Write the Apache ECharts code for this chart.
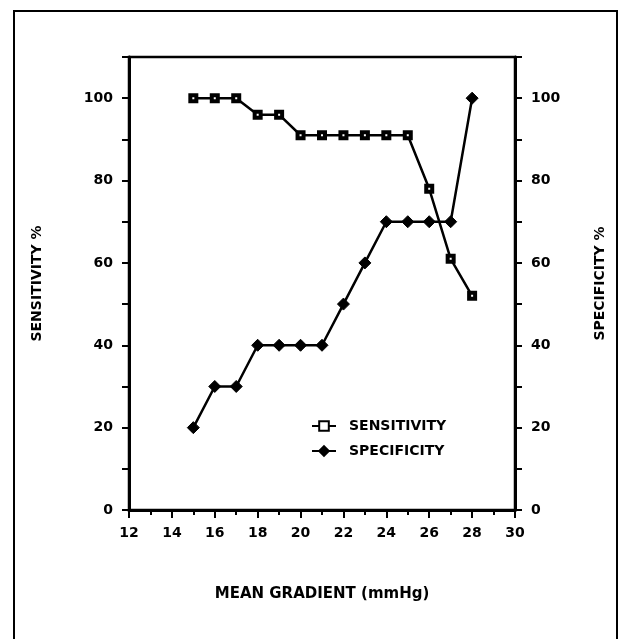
<!DOCTYPE html>
<html>
<head>
<meta charset="utf-8">
<script src="https://cdn.jsdelivr.net/npm/echarts@6/dist/echarts.min.js"></script>
<style>
  html, body { margin: 0; padding: 0; background: #fff; }
  #chart { width: 619px; height: 639px; }
</style>
</head>
<body>
<div id="chart"></div>
<script>
// mean gradient (mmHg)
const gradient = [15, 16, 17, 18, 19, 20, 21, 22, 23, 24, 25, 26, 27, 28];
const sensitivity = [100, 100, 100, 96, 96, 91, 91, 91, 91, 91, 91, 78, 61, 52];
const specificity = [20, 30, 30, 40, 40, 40, 40, 50, 60, 70, 70, 70, 70, 100];
const yLabels = [0, 20, 40, 60, 80, 100];

const font = "DejaVu Sans";
const ink = "#000";

const yLabelFmt = (v) => (yLabels.includes(v) ? String(v) : "");

const yAxisBase = {
  type: "value",
  min: 0,
  max: 110,
  interval: 10,
  nameLocation: "middle",
  nameRotate: 90,
  nameTextStyle: { color: ink, fontFamily: font, fontSize: 14, fontWeight: "bold" },
  axisLine: { show: true, lineStyle: { color: ink, width: 3 } },
  axisTick: { show: true, length: 7, lineStyle: { color: ink, width: 2 } },
  axisLabel: { color: ink, fontFamily: font, fontSize: 14, fontWeight: "bold", margin: 16, formatter: yLabelFmt },
  splitLine: { show: false },
};

const chart = echarts.init(document.getElementById("chart"), null, { renderer: "canvas" });

chart.setOption({
  backgroundColor: "#fff",
  animation: false,
  grid: {
    left: 129,
    right: 104,
    top: 57,
    bottom: 129,
    show: true,
    borderColor: ink,
    borderWidth: 2.5,
  },
  graphic: [
    {
      type: "rect",
      shape: { x: 14, y: 11, width: 603, height: 700 },
      style: { fill: null, stroke: ink, lineWidth: 2 },
      silent: true,
    },
  ],
  legend: {
    orient: "vertical",
    left: 306,
    top: 414,
    itemWidth: 24,
    itemHeight: 12,
    itemGap: 11,
    textStyle: { color: ink, fontFamily: font, fontSize: 14, fontWeight: "bold", padding: [0, 0, 0, 8] },
    data: ["SENSITIVITY", "SPECIFICITY"],
  },
  xAxis: {
    type: "value",
    min: 12,
    max: 30,
    interval: 2,
    name: "MEAN GRADIENT (mmHg)",
    nameLocation: "middle",
    nameGap: 77,
    nameTextStyle: { color: ink, fontFamily: font, fontSize: 15, fontWeight: "bold" },
    axisLine: { show: true, onZero: false, lineStyle: { color: ink, width: 3 } },
    axisTick: { show: true, length: 8, lineStyle: { color: ink, width: 2 } },
    minorTick: { show: true, splitNumber: 2, length: 5, lineStyle: { color: ink, width: 2 } },
    axisLabel: { color: ink, fontFamily: font, fontSize: 14, fontWeight: "bold", margin: 16 },
    splitLine: { show: false },
  },
  yAxis: [
    Object.assign({}, yAxisBase, { position: "left", name: "SENSITIVITY %", nameGap: 85 }),
    Object.assign({}, yAxisBase, { position: "right", name: "SPECIFICITY %", nameGap: 78 }),
  ],
  series: [
    {
      name: "SENSITIVITY",
      type: "line",
      data: gradient.map((g, i) => [g, sensitivity[i]]),
      symbol: "rect",
      symbolSize: 6,
      showAllSymbol: true,
      lineStyle: { color: ink, width: 2.5 },
      itemStyle: { color: "#fff", borderColor: ink, borderWidth: 4 },
    },
    {
      name: "SPECIFICITY",
      type: "line",
      data: gradient.map((g, i) => [g, specificity[i]]),
      symbol: "diamond",
      symbolSize: 12,
      showAllSymbol: true,
      lineStyle: { color: ink, width: 2.5 },
      itemStyle: { color: ink, borderColor: ink, borderWidth: 1 },
    },
  ],
});
</script>
</body>
</html>
